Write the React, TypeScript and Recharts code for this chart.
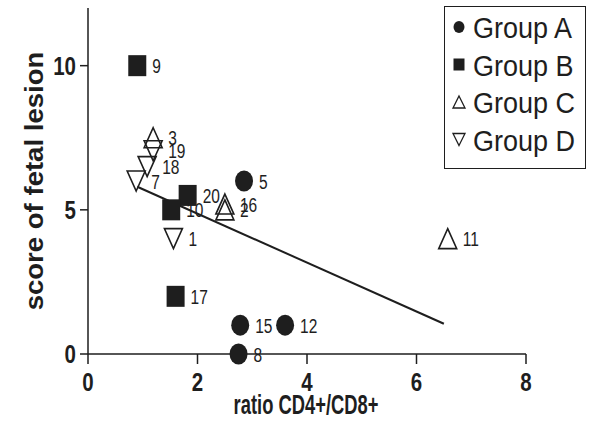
import React from 'react';
import { ScatterChart, Scatter, XAxis, YAxis, ReferenceLine } from 'recharts';

// patient numbers, ratio CD4+/CD8+ and lesion score per group
const groupAIds = [5, 15, 12, 8];
const groupAX = [2.85, 2.78, 3.6, 2.75];
const groupAY = [6, 1, 1, 0];

const groupBIds = [9, 20, 10, 17];
const groupBX = [0.9, 1.82, 1.52, 1.6];
const groupBY = [10, 5.5, 5, 2];

const groupCIds = [3, 16, 2, 11];
const groupCX = [1.19, 2.5, 2.5, 6.57];
const groupCY = [7.5, 5.2, 5.0, 4];

const groupDIds = [19, 18, 7, 1];
const groupDX = [1.19, 1.08, 0.88, 1.56];
const groupDY = [7.05, 6.5, 6, 4];

// regression line end points
const fitX = [0.9, 6.5];
const fitY = [5.8, 1.05];

const xTicks = [0, 2, 4, 6, 8];
const yTicks = [0, 5, 10];

const INK = '#1e1e1e';
const FONT = '"Liberation Sans", Arial, Helvetica, sans-serif';

const toRows = (ids: number[], xs: number[], ys: number[]) =>
  ids.map((id, i) => ({ id, x: xs[i], y: ys[i] }));

const groups = [
  { name: 'Group A', kind: 'circle', data: toRows(groupAIds, groupAX, groupAY) },
  { name: 'Group B', kind: 'square', data: toRows(groupBIds, groupBX, groupBY) },
  { name: 'Group C', kind: 'up', data: toRows(groupCIds, groupCX, groupCY) },
  { name: 'Group D', kind: 'down', data: toRows(groupDIds, groupDX, groupDY) },
];

// condensed text: plain font squeezed along its baseline
const Narrow = ({ x, y, size, sx = 0.8, bold = false, anchor = 'start', rotate = 0, children }: any) => (
  <text
    transform={`translate(${x},${y}) rotate(${rotate}) scale(${sx},1)`}
    fontSize={size}
    fontWeight={bold ? 700 : 400}
    fontFamily={FONT}
    fill={INK}
    textAnchor={anchor}
  >
    {children}
  </text>
);

const Marker = ({ kind, cx, cy, w, h, sw = 1.6 }: any) => {
  if (kind === 'circle') return <ellipse cx={cx} cy={cy} rx={w / 2} ry={h / 2} fill={INK} />;
  if (kind === 'square') return <rect x={cx - w / 2} y={cy - h / 2} width={w} height={h} fill={INK} />;
  const pts =
    kind === 'up'
      ? `${cx},${cy - h / 2} ${cx + w / 2},${cy + h / 2} ${cx - w / 2},${cy + h / 2}`
      : `${cx},${cy + h / 2} ${cx + w / 2},${cy - h / 2} ${cx - w / 2},${cy - h / 2}`;
  return <polygon points={pts} fill="none" stroke={INK} strokeWidth={sw} />;
};

const makeShape = (kind: string) => (props: any) => {
  const { cx, cy } = props;
  const id = props.payload?.id ?? props.id;
  return (
    <g>
      <Marker kind={kind} cx={cx} cy={cy} w={18} h={kind === 'up' || kind === 'down' ? 20 : 21} />
      <Narrow x={cx + 15} y={cy + 7.5} size={21} sx={0.74}>
        {id}
      </Narrow>
    </g>
  );
};

const XTick = ({ x, y, payload }: any) => (
  <Narrow x={x} y={y + 18} size={25} sx={0.82} bold anchor="middle">
    {payload.value}
  </Narrow>
);

const YTick = ({ x, y, payload }: any) => (
  <Narrow x={x} y={y + 9} size={25} sx={0.82} bold anchor="end">
    {payload.value}
  </Narrow>
);

const XTitle = ({ viewBox }: any) => (
  <Narrow x={viewBox.x + viewBox.width / 2 - 1} y={414} size={27} sx={0.68} bold anchor="middle">
    ratio CD4+/CD8+
  </Narrow>
);

const YTitle = ({ viewBox }: any) => (
  <Narrow x={43} y={viewBox.y + viewBox.height / 2} size={26} sx={1.06} bold anchor="middle" rotate={-90}>
    score of fetal lesion
  </Narrow>
);

const LegendBox = () => (
  <div
    style={{
      position: 'absolute',
      left: 444,
      top: 6,
      width: 142,
      height: 163,
      border: `1.5px solid ${INK}`,
      background: '#fff',
      boxSizing: 'border-box',
    }}
  >
    <svg width={139} height={160} style={{ display: 'block' }}>
      {groups.map((g, i) => {
        const cy = 20 + i * 37.5;
        return (
          <g key={g.name}>
            <Marker kind={g.kind} cx={14} cy={cy} w={g.kind === 'circle' || g.kind === 'square' ? 11 : 12} h={12} sw={1.3} />
            <Narrow x={28} y={cy + 11} size={30} sx={0.9}>
              {g.name}
            </Narrow>
          </g>
        );
      })}
    </svg>
  </div>
);

export default function App() {
  return (
    <div style={{ position: 'relative', width: 594, height: 434, background: '#fff' }}>
      <style>{`body{margin:0}`}</style>
      <ScatterChart width={594} height={434} margin={{ top: 8, right: 68, bottom: 0, left: 0 }}>
        <XAxis
          type="number"
          dataKey="x"
          domain={[0, 8]}
          ticks={xTicks}
          height={80}
          tickSize={10}
          tickMargin={9}
          stroke={INK}
          strokeWidth={1.5}
          tick={<XTick />}
          label={{ content: (p: any) => <XTitle {...p} /> }}
        />
        <YAxis
          type="number"
          dataKey="y"
          domain={[0, 12]}
          ticks={yTicks}
          width={88}
          tickSize={8}
          tickMargin={4}
          stroke={INK}
          strokeWidth={1.5}
          tick={<YTick />}
          label={{ content: (p: any) => <YTitle {...p} /> }}
        />
        <ReferenceLine
          segment={[
            { x: fitX[0], y: fitY[0] },
            { x: fitX[1], y: fitY[1] },
          ]}
          stroke={INK}
          strokeWidth={2}
          ifOverflow="visible"
        />
        {groups.map((g) => (
          <Scatter
            key={g.name}
            name={g.name}
            data={g.data}
            shape={makeShape(g.kind)}
            isAnimationActive={false}
          />
        ))}
      </ScatterChart>
      <LegendBox />
    </div>
  );
}
